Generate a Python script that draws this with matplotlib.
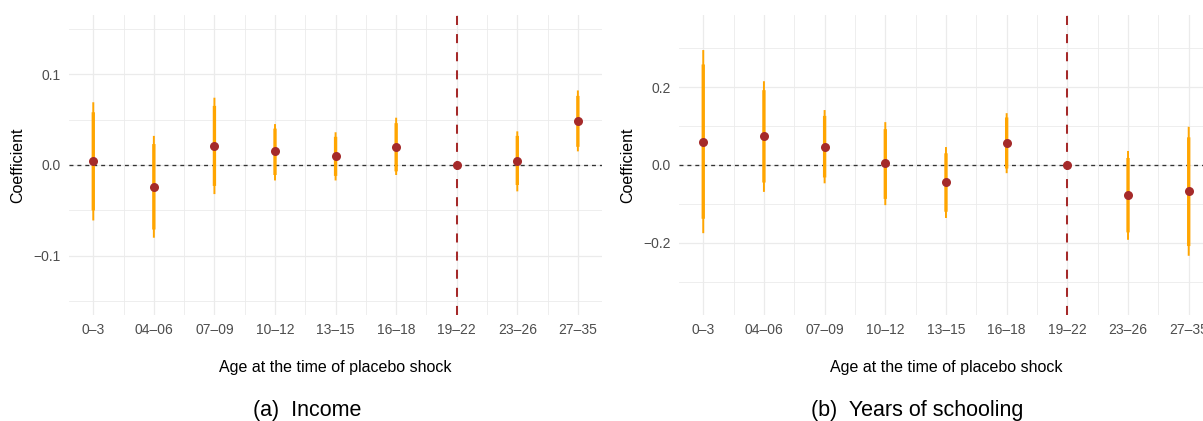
import numpy as np
import matplotlib
matplotlib.use("Agg")
import matplotlib.pyplot as plt

plt.rcParams["font.family"] = ["Liberation Sans", "DejaVu Sans"]

# Age groups at the time of the placebo shock
categories = ["0–3", "04–06", "07–09", "10–12", "13–15", "16–18", "19–22", "23–26", "27–35"]
ref_group = "19–22"

# (a) Income
income_coef = [0.004, -0.024, 0.021, 0.015, 0.010, 0.020, 0.0, 0.004, 0.048]
income_lo90 = [-0.050, -0.071, -0.023, -0.011, -0.012, -0.007, np.nan, -0.022, 0.020]
income_hi90 = [0.058, 0.023, 0.065, 0.040, 0.031, 0.046, np.nan, 0.032, 0.076]
income_lo95 = [-0.061, -0.080, -0.032, -0.017, -0.017, -0.011, np.nan, -0.029, 0.015]
income_hi95 = [0.069, 0.032, 0.074, 0.045, 0.036, 0.052, np.nan, 0.037, 0.082]

# (b) Years of schooling
school_coef = [0.060, 0.074, 0.047, 0.004, -0.044, 0.056, 0.0, -0.078, -0.068]
school_lo90 = [-0.138, -0.045, -0.032, -0.087, -0.120, -0.009, np.nan, -0.173, -0.208]
school_hi90 = [0.258, 0.192, 0.126, 0.092, 0.030, 0.122, np.nan, 0.018, 0.071]
school_lo95 = [-0.175, -0.069, -0.047, -0.103, -0.136, -0.021, np.nan, -0.192, -0.233]
school_hi95 = [0.295, 0.215, 0.141, 0.110, 0.046, 0.133, np.nan, 0.036, 0.098]

ORANGE = "#FFA500"
BROWN = "#A52A2A"
GRID = "#EBEBEB"


def draw_panel(ax, coef, lo90, hi90, lo95, hi95, ylim, major, minor, caption, cap_shift):
    x = np.arange(len(categories))
    ok = ~np.isnan(np.array(lo95, dtype=float))

    # grid, theme_minimal style
    ax.set_xlim(-0.4, len(categories) - 0.6)
    ax.set_ylim(*ylim)
    ax.set_yticks(major)
    ax.set_yticks(minor, minor=True)
    ax.set_xticks(x)
    ax.set_xticks(x[:-1] + 0.5, minor=True)
    ax.set_xticklabels(categories)
    ax.grid(True, which="major", color=GRID, lw=0.9)
    ax.grid(True, which="minor", color=GRID, lw=0.6)
    ax.set_axisbelow(True)
    for s in ax.spines.values():
        s.set_visible(False)
    ax.tick_params(which="both", length=0, labelsize=10, labelcolor="#4D4D4D")
    ax.tick_params(axis="x", pad=6)
    ax.tick_params(axis="y", pad=6)

    ax.axhline(0, color="#333333", lw=0.95, ls=(0, (3, 3)), zorder=1)
    ax.axvline(categories.index(ref_group), color=BROWN, lw=1.45, ls=(0, (4.5, 4.5)), zorder=2)

    ax.vlines(x[ok], np.array(lo95)[ok], np.array(hi95)[ok], color=ORANGE, lw=1.4,
              zorder=3, snap=False)
    ax.vlines(x[ok], np.array(lo90)[ok], np.array(hi90)[ok], color=ORANGE, lw=2.4,
              zorder=3, snap=False)
    ax.plot(x, coef, "o", color=BROWN, ms=6.5, mec="none", zorder=4)

    ax.set_ylabel("Coefficient", fontsize=11.5, labelpad=6)
    ax.set_xlabel("Age at the time of placebo shock", fontsize=11.5, labelpad=16)
    # captions are centred on the whole sub-figure, not the axes
    ax.text(0.5 + cap_shift, -0.338, caption, transform=ax.transAxes,
            fontsize=15.5, ha="center", va="baseline")


def main():
    fig = plt.figure(figsize=(12.03, 4.21), dpi=100)
    ax1 = fig.add_axes([0.0574, 0.2518, 0.4431, 0.7126])
    ax2 = fig.add_axes([0.5644, 0.2518, 0.4439, 0.7126])

    draw_panel(ax1, income_coef, income_lo90, income_hi90, income_lo95, income_hi95,
               (-0.165, 0.165), [-0.1, 0.0, 0.1], [-0.15, -0.05, 0.05, 0.15],
               "(a)  Income", -28 / 533)
    draw_panel(ax2, school_coef, school_lo90, school_hi90, school_lo95, school_hi95,
               (-0.385, 0.385), [-0.2, 0.0, 0.2], [-0.3, -0.1, 0.1, 0.3],
               "(b)  Years of schooling", -29 / 534)

    fig.savefig("out.png", dpi=100)


if __name__ == "__main__":
    main()
